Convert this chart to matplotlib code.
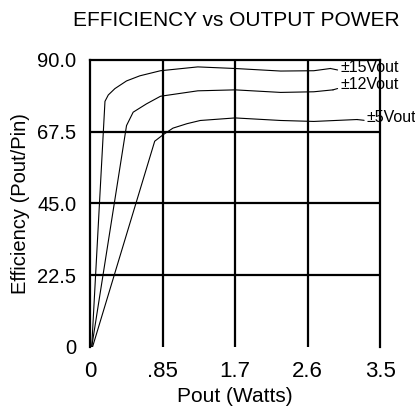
import numpy as np
import matplotlib.pyplot as plt

plt.rcParams['font.family'] = ['Liberation Sans', 'DejaVu Sans']

# efficiency curves (Pout in W, efficiency in %)
p15 = [0.02, 0.18, 0.22, 0.30, 0.44, 0.60, 0.85, 1.30, 1.75, 2.30, 2.70, 2.90]
e15 = [0.0, 77.0, 79.0, 81.0, 83.4, 85.0, 86.6, 87.8, 87.3, 86.5, 86.6, 87.3]
p12 = [0.02, 0.44, 0.52, 0.68, 0.85, 1.30, 1.75, 2.30, 2.70, 2.93]
e12 = [0.0, 69.4, 73.6, 76.2, 78.6, 80.3, 80.6, 79.8, 80.0, 80.6]
p5 = [0.03, 0.78, 0.88, 1.00, 1.17, 1.33, 1.75, 2.30, 2.70, 3.22]
e5 = [0.0, 64.5, 66.5, 68.6, 70.0, 71.0, 71.8, 71.0, 70.7, 71.3]

# grid is in quarters of 3.5 W, labels are truncated on the original
xticks = [0, 0.875, 1.75, 2.625, 3.5]
xlabels = ['0', '.85', '1.7', '2.6', '3.5']
yticks = [0, 22.5, 45.0, 67.5, 90.0]
ylabels = ['0', '22.5', '45.0', '67.5', '90.0']
names = ['\u00b115Vout', '\u00b112Vout', '\u00b15Vout']

fig = plt.figure(figsize=(4.15, 4.13), dpi=100)
ax = fig.add_axes([0.217, 0.16, 0.699, 0.695])

curves = [(p15, e15), (p12, e12), (p5, e5)]
for p, e in curves:
    ax.plot(p, e, color='black', lw=0.8)

# leader lines to the curve labels
label_pos = [(3.02, 87.6), (3.02, 82.2), (3.34, 71.9)]
for name, (tx, ty), (p, e) in zip(names, label_pos, curves):
    ax.annotate(name, xy=(p[-1], e[-1]), xytext=(tx, ty), fontsize=11.5,
                va='center', ha='left', annotation_clip=False,
                arrowprops=dict(arrowstyle='-', lw=0.8, color='black',
                                shrinkA=0, shrinkB=0, relpos=(0, 0.3)))

for x in xticks[1:-1]:
    ax.axvline(x, color='black', lw=1.6, zorder=0)
for y in yticks[1:-1]:
    ax.axhline(y, color='black', lw=1.6, zorder=0)

ax.set_xlim(0, 3.5)
ax.set_ylim(0, 90)
ax.spines['bottom'].set_visible(False)
for s in ['left', 'right', 'top']:
    ax.spines[s].set_linewidth(1.6)
ax.set_xticks(xticks)
ax.set_xticklabels(xlabels, fontsize=16)
ax.set_yticks(yticks)
ax.set_yticklabels(ylabels, fontsize=14.5)
ax.tick_params(length=0)
ax.tick_params(axis='x', pad=10)
ax.tick_params(axis='y', pad=10)
ax.set_xlabel('Pout (Watts)', fontsize=15, labelpad=4)
ax.set_ylabel('Efficiency (Pout/Pin)', fontsize=14.5, labelpad=5)
fig.text(0.57, 0.95, 'EFFICIENCY vs OUTPUT POWER', fontsize=15, ha='center', va='center')

plt.savefig('out.png', dpi=100)
